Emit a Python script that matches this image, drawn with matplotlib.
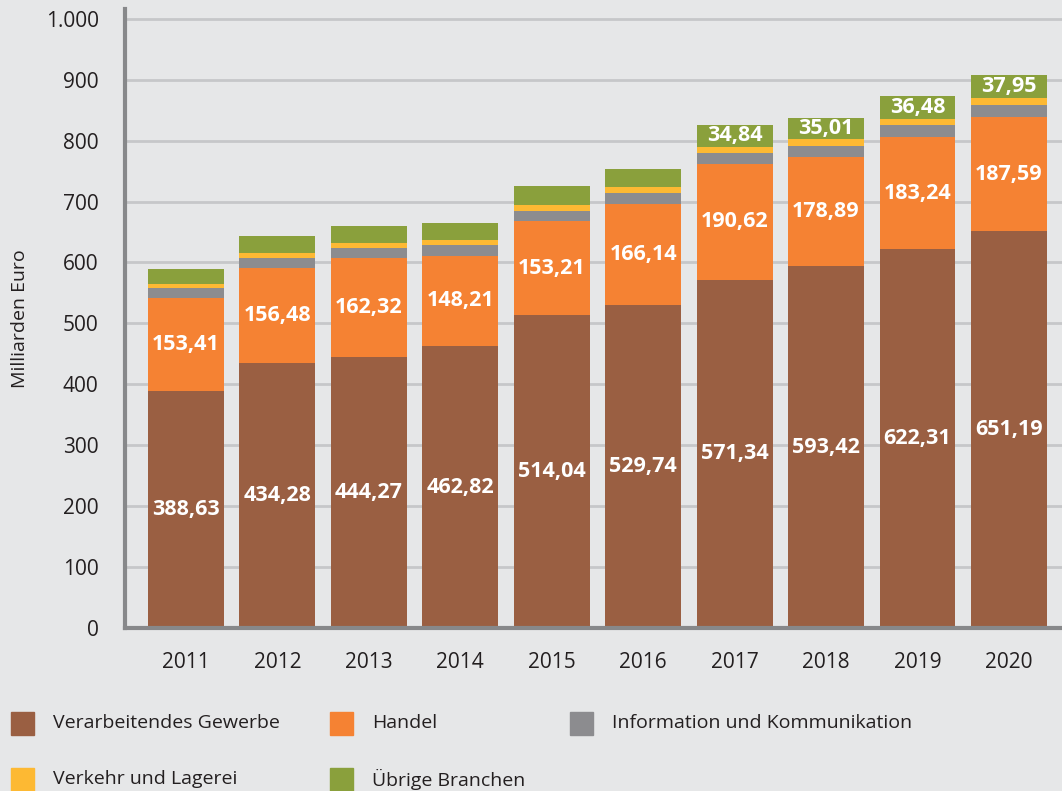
import numpy as np
import matplotlib.pyplot as plt
from matplotlib.patches import Rectangle

# Data (Milliarden Euro)
years = ['2011', '2012', '2013', '2014', '2015', '2016', '2017', '2018', '2019', '2020']
series_names = ['Verarbeitendes Gewerbe', 'Handel', 'Information und Kommunikation',
                'Verkehr und Lagerei', 'Übrige Branchen']

verarbeitendes = [388.63, 434.28, 444.27, 462.82, 514.04, 529.74, 571.34, 593.42, 622.31, 651.19]
handel = [153.41, 156.48, 162.32, 148.21, 153.21, 166.14, 190.62, 178.89, 183.24, 187.59]
info_komm = [16.4, 16.6, 16.8, 17.0, 17.2, 18.0, 18.3, 18.6, 19.5, 20.1]
verkehr = [6.8, 8.0, 8.3, 9.0, 9.5, 9.8, 10.0, 11.0, 11.2, 10.5]
uebrige = [24.6, 27.5, 27.8, 27.9, 31.0, 29.5, 34.84, 35.01, 36.48, 37.95]

# which segments get a value label
label_verarbeitendes = [True] * 10
label_handel = [True] * 10
label_uebrige = [False] * 6 + [True] * 4

colors = ['#9a5f42', '#f58233', '#8c8c8f', '#fdb933', '#8aa03c']
bg = '#e6e7e8'

plt.rcParams['font.family'] = ['Open Sans', 'DejaVu Sans']

fig = plt.figure(figsize=(10.62, 7.91), dpi=100, facecolor=bg)
ax = fig.add_axes([125 / 1062, 1 - 628 / 791, 1 - 125 / 1062, (628 - 9) / 791])
ax.set_facecolor(bg)

x = np.arange(len(years))
width = 0.83
all_series = [verarbeitendes, handel, info_komm, verkehr, uebrige]
label_flags = [label_verarbeitendes, label_handel, None, None, label_uebrige]

bottom = np.zeros(len(years))
for vals, col, flags in zip(all_series, colors, label_flags):
    vals = np.array(vals)
    ax.bar(x, vals, width, bottom=bottom, color=col, zorder=3)
    if flags is not None:
        for i, v in enumerate(vals):
            if flags[i]:
                ax.text(x[i], bottom[i] + v / 2, f'{v:.2f}'.replace('.', ','),
                        ha='center', va='center', color='white', fontsize=15.5,
                        fontweight='bold', zorder=4)
    bottom += vals

ax.set_xlim(-0.667, 9.58)
ax.set_ylim(0, 1016)
ax.set_yticks(np.arange(0, 1001, 100))
ax.set_yticklabels([f'{v:,}'.replace(',', '.') for v in range(0, 1001, 100)])
ax.set_xticks(x)
ax.set_xticklabels(years)
ax.tick_params(axis='both', length=0, labelsize=15, labelcolor='#231f20')
ax.tick_params(axis='y', pad=19)
ax.tick_params(axis='x', pad=17)

ax.yaxis.grid(True, color='#c6c7c9', linewidth=2.0, zorder=0)
ax.set_axisbelow(True)
for s in ['top', 'right']:
    ax.spines[s].set_visible(False)
for s in ['left', 'bottom']:
    ax.spines[s].set_color('#87888a')
    ax.spines[s].set_linewidth(3.0)
    ax.spines[s].set_zorder(5)

fig.text(20 / 1062, 1 - 319 / 791, 'Milliarden Euro', rotation=90, ha='center',
         va='center', fontsize=14, color='#231f20')

# Legend drawn manually
legend_pos = [(11, 712), (330, 712), (570, 712), (11, 768), (330, 768)]
for name, col, (lx, ly) in zip(series_names, colors, legend_pos):
    fig.patches.append(Rectangle((lx / 1062, 1 - (ly + 23) / 791), 23 / 1062, 23 / 791,
                                 transform=fig.transFigure, color=col, figure=fig))
    fig.text((lx + 42) / 1062, 1 - (ly + 11.5) / 791, name, ha='left', va='center',
             fontsize=14, color='#231f20')

fig.savefig('out.png', dpi=100, facecolor=bg)
